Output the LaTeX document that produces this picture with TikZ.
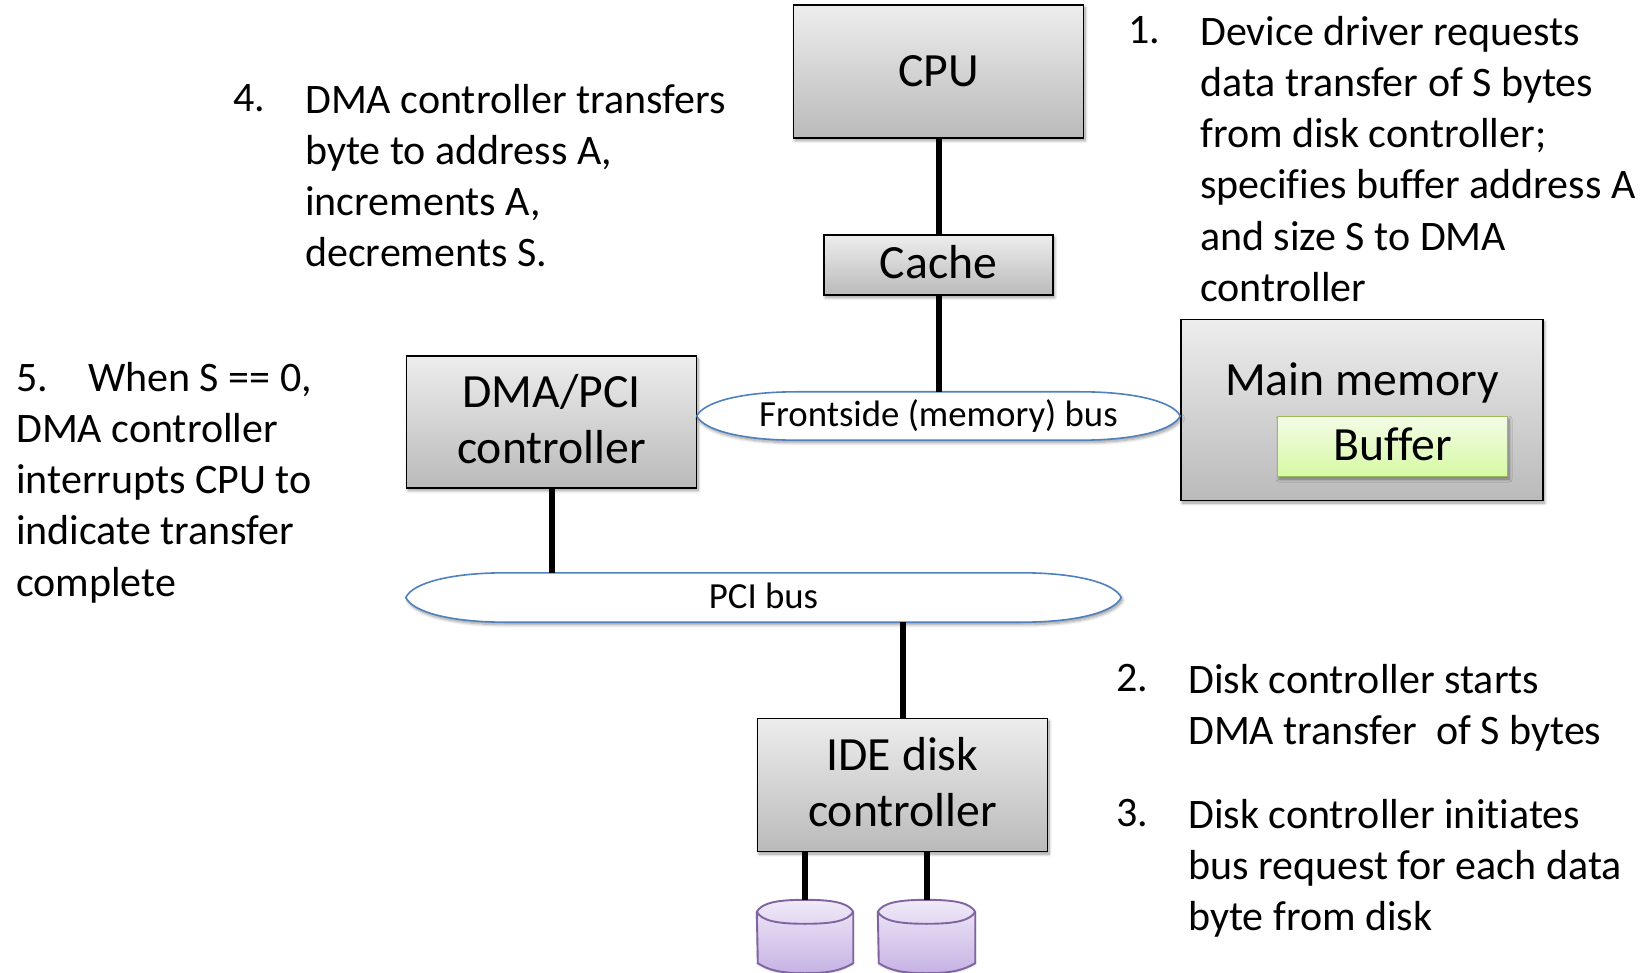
\documentclass[tikz,border=0pt]{standalone}
\usepackage{fontspec}
\setmainfont{Carlito}[Ligatures=NoCommon]
\usetikzlibrary{calc,shadows.blur}
\newcommand{\bodyfont}{\fontsize{42}{51.2}\selectfont}
\newcommand{\boxfont}{\fontsize{47.7}{55.5}\selectfont}
\newcommand{\busfont}{\fontsize{36.8}{40}\selectfont}
\newcommand{\busshape}[1]{%
  \draw[busline] (#1.west)
    .. controls ($(#1.north west)+(7,10)$) and ($(#1.north west)+(45,0)$) .. ($(#1.north west)+(100,0)$)
    -- ($(#1.north east)+(-100,0)$)
    .. controls ($(#1.north east)+(-45,0)$) and ($(#1.north east)+(-7,10)$) .. (#1.east)
    .. controls ($(#1.south east)+(-7,-10)$) and ($(#1.south east)+(-45,0)$) .. ($(#1.south east)+(-100,0)$)
    -- ($(#1.south west)+(100,0)$)
    .. controls ($(#1.south west)+(45,0)$) and ($(#1.south west)+(7,-10)$) .. (#1.west) -- cycle;}
\newcommand{\diskshape}[1]{%
  \draw[diskline,top color=diskA,bottom color=diskB,blur shadow={shadow blur steps=6,shadow xshift=0pt,shadow yshift=-1pt,shadow opacity=25}]
    ($(#1.north west)+(0,12)$) -- ($(#1.south west)+(1,-10)$)
    .. controls ($(#1.south west)+(12,-3)$) and ($(#1.south)+(-25,0)$) .. (#1.south)
    .. controls ($(#1.south)+(25,0)$) and ($(#1.south east)+(-12,-3)$) .. ($(#1.south east)+(0,-10)$)
    -- ($(#1.north east)+(0,12)$)
    .. controls ($(#1.north east)+(-5,3)$) and ($(#1.north)+(28,0)$) .. (#1.north)
    .. controls ($(#1.north)+(-28,0)$) and ($(#1.north west)+(5,3)$) .. ($(#1.north west)+(0,12)$) -- cycle;
  \draw[diskline] ($(#1.north west)+(0,12)$)
    .. controls ($(#1.north west)+(5,21)$) and ($(#1.north)+(-28,24)$) .. ($(#1.north)+(0,24)$)
    .. controls ($(#1.north)+(28,24)$) and ($(#1.north east)+(-5,21)$) .. ($(#1.north east)+(0,12)$);}
\definecolor{boxA}{HTML}{EDEDED}
\definecolor{boxB}{HTML}{BABABA}
\definecolor{bufA}{HTML}{F3FCE6}
\definecolor{bufB}{HTML}{D6F9A4}
\definecolor{bufL}{HTML}{9BBB59}
\definecolor{busL}{HTML}{4F81BD}
\definecolor{diskA}{HTML}{F0EAF8}
\definecolor{diskB}{HTML}{C6B2E4}
\definecolor{diskL}{HTML}{8064A2}
\tikzset{
  x=1pt,y=-1pt,
  softshadow/.style={blur shadow={shadow blur steps=8,shadow xshift=1.5pt,shadow yshift=-2.5pt,shadow blur radius=3pt,shadow opacity=40}},
  graybox/.style={draw=black,line width=1.9pt,top color=boxA,bottom color=boxB,inner sep=0pt,softshadow},
  bufbox/.style={draw=bufL,line width=1.8pt,top color=bufA,bottom color=bufB,inner sep=0pt,softshadow},
  boxlabel/.style={inner sep=0pt,align=center,font=\boxfont},
  busbox/.style={inner sep=0pt,font=\busfont},
  busline/.style={draw=busL,line width=1.6pt,fill=white,softshadow},
  diskline/.style={draw=diskL,line width=1.9pt},
  diskbox/.style={inner sep=0pt},
  wire/.style={line width=6pt,black},
  bodytext/.style={inner sep=0pt,anchor=north west,align=left,font=\bodyfont},
}
\begin{document}
\begin{tikzpicture}
\useasboundingbox (0,0) rectangle (1647,973);
\node[busbox,minimum width=483pt,minimum height=48pt] (front) at (938.5,416) {};
\node[busbox,minimum width=715pt,minimum height=49pt] (pci) at (763.5,597.5) {};
\node[graybox,minimum width=290pt,minimum height=133pt] (cpu) at (938.5,71.5) {};
\node[graybox,minimum width=229pt,minimum height=60pt] (cache) at (938.5,265) {};
\node[graybox,minimum width=290pt,minimum height=132pt] (dma) at (551.5,422) {};
\node[graybox,minimum width=362pt,minimum height=181pt] (mainmem) at (1362,410) {};
\node[bufbox,minimum width=230pt,minimum height=60pt] (buffer) at (1392.5,446.5) {};
\node[graybox,minimum width=290pt,minimum height=133pt] (ide) at (902.5,785) {};
\node[boxlabel] (cpulabel) at (cpu.center) {CPU};
\node[boxlabel] (cachelabel) at ($(cache.center)+(0,-3)$) {Cache};
\node[boxlabel] (dmalabel) at ($(dma.center)+(0,-3)$) {DMA/PCI\\controller};
\node[boxlabel] (mainlabel) at (1362,383) {Main memory};
\node[boxlabel] (bufferlabel) at ($(buffer.center)+(0,-2)$) {Buffer};
\node[boxlabel] (idelabel) at ($(ide.center)+(0,-3)$) {IDE disk\\controller};
\node[diskbox,minimum width=96pt,minimum height=73pt] (disk1) at (805,936.5) {};
\node[diskbox,minimum width=97pt,minimum height=73pt] (disk2) at (926.5,936.5) {};
\busshape{front}
\busshape{pci}
\diskshape{disk1}
\diskshape{disk2}
\node[busbox] (frontlabel) at (front.center) {Frontside (memory) bus};
\node[busbox] (pcilabel) at ($(pci.center)+(0,-2)$) {PCI bus};
\draw[wire] (cpu.south) -- (cache.north);
\draw[wire] (cache.south) -- (cache.south |- front.north);
\draw[wire] (dma.south) -- (dma.south |- pci.north);
\draw[wire] (ide.north) -- (ide.north |- pci.south);
\draw[wire] (disk1.north |- ide.south) -- (disk1.north);
\draw[wire] (disk2.north |- ide.south) -- (disk2.north);
\node[bodytext] (n1) at (1128,16) {1.};
\node[bodytext] (t1) at (1200,16) {Device driver requests\\data transfer of S bytes\\from disk controller;\\specifies buffer address A\\and size S to DMA\\controller};
\node[bodytext] (n4) at (233,84) {4.};
\node[bodytext] (t4) at (305,84) {DMA controller transfers\\byte to address A,\\increments A,\\decrements S.};
\node[bodytext] (t5) at (16,362) {5.\hspace{40pt}When S == 0,\\DMA controller\\interrupts CPU to\\indicate transfer\\complete};
\node[bodytext] (n2) at (1116,664) {2.};
\node[bodytext] (t2) at (1188,664) {Disk controller starts\\DMA transfer\ \ of S bytes};
\node[bodytext] (n3) at (1116,799) {3.};
\node[bodytext] (t3) at (1188,799) {Disk controller initiates\\bus request for each data\\byte from disk};
\end{tikzpicture}
\end{document}
